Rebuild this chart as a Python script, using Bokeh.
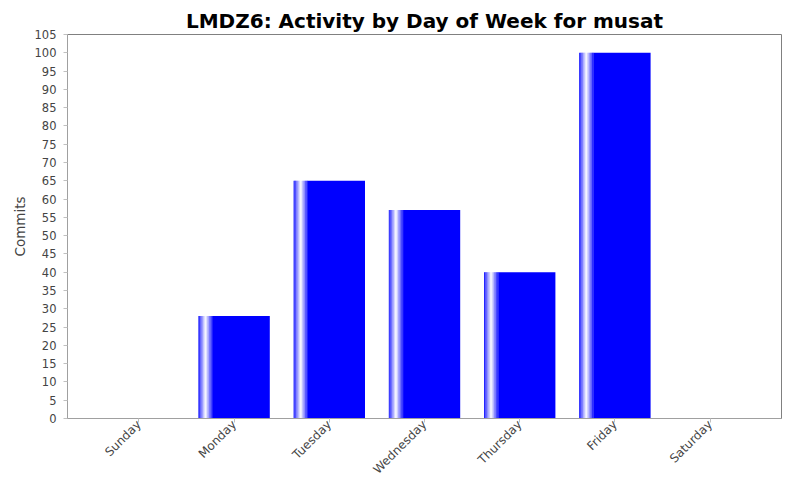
from bokeh.plotting import figure
from bokeh.models import Range1d, FixedTicker
from bokeh.embed import file_html
from bokeh.resources import INLINE

days = ["Sunday", "Monday", "Tuesday", "Wednesday", "Thursday", "Friday", "Saturday"]
commits = [0, 28, 65, 57, 40, 100, 0]
y_ticks = list(range(0, 106, 5))
title_text = "LMDZ6: Activity by Day of Week for musat"
y_label = "Commits"

BAR_W = 0.75
FONT = "DejaVu Sans"

p = figure(width=784, height=484, output_backend="svg", toolbar_location=None,
           x_range=Range1d(-0.75, 6.75), y_range=Range1d(0, 105),
           min_border_left=67, min_border_right=3, min_border_top=34,
           min_border_bottom=60)

p.title.text = title_text
p.title.align = "center"
p.title.vertical_align = "top"
p.title.text_font = FONT
p.title.text_font_size = "20px"
p.title.text_font_style = "bold"
p.title.text_color = "black"
p.title.offset = 0
p.title.standoff = 0

p.xgrid.visible = False
p.ygrid.visible = False
p.outline_line_color = "#808080"
p.outline_line_width = 1
p.background_fill_color = "white"
p.border_fill_color = "white"

# bars: solid body plus a gradient highlight near the left edge
idx = [i for i, v in enumerate(commits) if v > 0]
vals = [commits[i] for i in idx]
left = [i - BAR_W / 2 for i in idx]
p.quad(left=[l + 0.2 * BAR_W for l in left], right=[i + BAR_W / 2 for i in idx],
       top=vals, bottom=0, fill_color="#0000ff", line_color=None)

n = 10
seg = 0.1 * BAR_W / n
for k in range(2 * n):
    if k < n:
        t = (k + 0.5) / n
    else:
        t = 1 - (k - n + 0.5) / n
    c = int(round(255 * t))
    col = "#%02x%02x%02x" % (c, c, 255)
    p.quad(left=[l + k * seg for l in left], right=[l + (k + 1) * seg + 0.002 for l in left],
           top=vals, bottom=0, fill_color=col, line_color=None)

# axes
p.yaxis.ticker = FixedTicker(ticks=y_ticks)
p.yaxis.axis_label = y_label
p.yaxis.axis_label_text_font = FONT
p.yaxis.axis_label_text_font_size = "13.5px"
p.yaxis.axis_label_text_font_style = "normal"
p.yaxis.axis_label_text_color = "#444444"
p.yaxis.axis_label_standoff = 4
p.yaxis.major_label_text_font_size = "11.5px"
p.yaxis.major_label_standoff = 7

p.xaxis.ticker = FixedTicker(ticks=list(range(len(days))))
p.xaxis.major_label_overrides = {i: d for i, d in enumerate(days)}
p.xaxis.major_label_orientation = 0.785398
p.xaxis.major_label_text_font_size = "12px"
p.xaxis.major_label_standoff = 0

for ax in (p.xaxis, p.yaxis):
    ax.major_label_text_font = FONT
    ax.major_label_text_color = "#444444"
    ax.axis_line_color = "#a0a0a0"
    ax.major_tick_line_color = "#c0c0c0"
    ax.major_tick_out = 4
    ax.major_tick_in = 0
    ax.minor_tick_line_color = None

open("out.html", "w").write(file_html(p, INLINE))
